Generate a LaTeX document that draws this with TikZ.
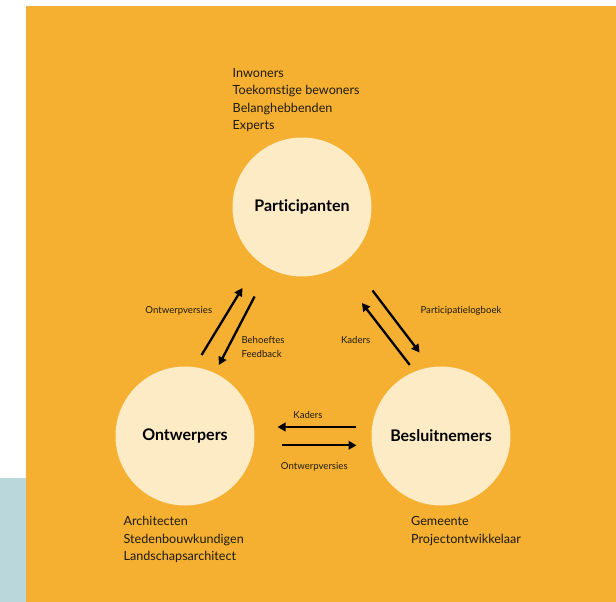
\documentclass[tikz,border=0pt]{standalone}
\usepackage{fontspec}
\setmainfont{Lato}[Ligatures=NoCommon]
\usetikzlibrary{arrows.meta}
\definecolor{bgorange}{HTML}{F5B031}
\definecolor{circfill}{HTML}{FCEBC5}
\definecolor{sideblue}{HTML}{BAD8DB}
\definecolor{txt}{HTML}{1E1A10}
\tikzset{
  circ/.style={circle, fill=circfill, minimum size=139pt, inner sep=0pt, text=black, font=\fontsize{16}{19}\selectfont\bfseries},
  listtext/.style={anchor=base west, align=left, inner sep=0pt, text=txt, font=\fontsize{12.6}{17.3}\selectfont},
  smalllab/.style={inner sep=0pt, text=txt, font=\fontsize{9.6}{13.5}\selectfont},
  arr/.style={line width=2.3pt, -{Triangle[length=8pt,width=8.5pt]}, black},
}
\begin{document}
\begin{tikzpicture}[x=1pt,y=-1pt]
\useasboundingbox (0,0) rectangle (616,602);
\fill[white] (0,0) rectangle (616,602);
\fill[sideblue] (0,478) rectangle (26,602);
\fill[bgorange] (26,6) rectangle (616,602);

\node[circ] (P) at (302,207) {Participanten};
\node[circ] (O) at (185,436) {Ontwerpers};
\node[circ] (B) at (441,436) {Besluitnemers};

\node[listtext] (Plist) at (232.5,129.6) {Inwoners\\Toekomstige bewoners\\Belanghebbenden\\Experts};
\node[listtext] (Olist) at (123.4,560.5) {Architecten\\Stedenbouwkundigen\\Landschapsarchitect};
\node[listtext] (Blist) at (411,543.2) {Gemeente\\Projectontwikkelaar};

% endpoints
\coordinate (a1) at (201.6,355);
\coordinate (a2) at (242.4,288);
\coordinate (b1) at (254.6,296.5);
\coordinate (b2) at (218.9,365);
\coordinate (c1) at (372.5,290.5);
\coordinate (c2) at (419.6,352.5);
\coordinate (d1) at (409.8,365);
\coordinate (d2) at (361.9,303);
\coordinate (e1) at (355.6,427);
\coordinate (e2) at (277.5,427);
\coordinate (f1) at (281.7,445.3);
\coordinate (f2) at (356.5,445.3);

\draw[arr] (a1) -- (a2);
\draw[arr] (b1) -- (b2);
\draw[arr] (c1) -- (c2);
\draw[arr] (d1) -- (d2);
\draw[arr] (e1) -- (e2);
\draw[arr] (f1) -- (f2);

\node[smalllab] (l1) at (178.8,311) {Ontwerpversies};
\node[smalllab, anchor=west, align=left] (l2) at (241.3,347.2) {Behoeftes\\Feedback};
\node[smalllab, anchor=west] (l3) at (420.4,311) {Participatielogboek};
\node[smalllab] (l4) at (355.6,340.5) {Kaders};
\node[smalllab] (l5) at (308,415) {Kaders};
\node[smalllab] (l6) at (314.3,466.4) {Ontwerpversies};
\end{tikzpicture}
\end{document}
